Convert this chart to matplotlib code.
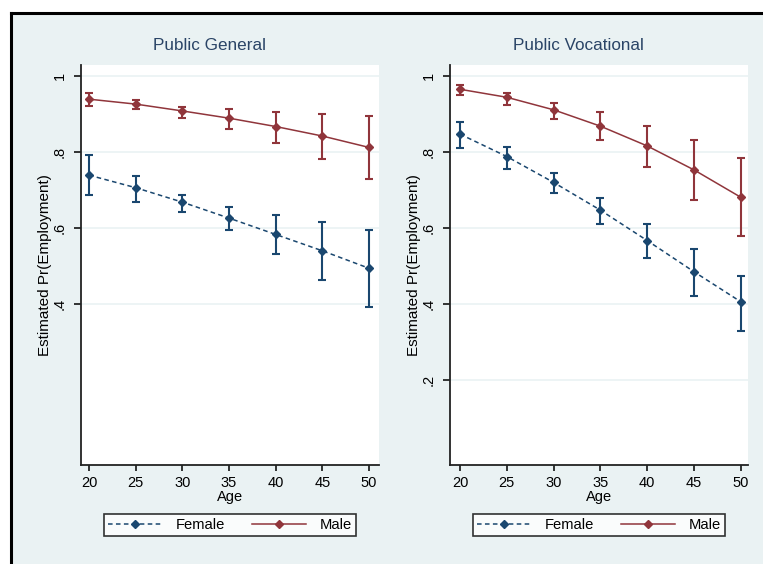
import matplotlib
matplotlib.use("Agg")
import matplotlib.pyplot as plt
from matplotlib.lines import Line2D
from matplotlib.patches import Rectangle
import numpy as np

plt.rcParams['font.family'] = ['Liberation Sans', 'DejaVu Sans']

ages = [20, 25, 30, 35, 40, 45, 50]

# Public General
gen_female = [0.739, 0.706, 0.668, 0.626, 0.583, 0.540, 0.494]
gen_female_lo = [0.687, 0.668, 0.641, 0.595, 0.532, 0.463, 0.391]
gen_female_hi = [0.793, 0.738, 0.687, 0.655, 0.633, 0.615, 0.595]
gen_male = [0.939, 0.926, 0.908, 0.889, 0.867, 0.842, 0.812]
gen_male_lo = [0.921, 0.912, 0.890, 0.860, 0.823, 0.781, 0.729]
gen_male_hi = [0.954, 0.937, 0.919, 0.912, 0.904, 0.899, 0.895]

# Public Vocational
voc_female = [0.847, 0.788, 0.720, 0.647, 0.567, 0.485, 0.406]
voc_female_lo = [0.810, 0.755, 0.693, 0.611, 0.520, 0.421, 0.329]
voc_female_hi = [0.878, 0.814, 0.746, 0.678, 0.611, 0.544, 0.474]
voc_male = [0.965, 0.944, 0.911, 0.868, 0.816, 0.753, 0.681]
voc_male_lo = [0.950, 0.924, 0.886, 0.832, 0.760, 0.674, 0.579]
voc_male_hi = [0.975, 0.954, 0.928, 0.904, 0.869, 0.832, 0.785]

titles = ["Public General", "Public Vocational"]
ytick_sets = [[0.4, 0.6, 0.8, 1.0], [0.2, 0.4, 0.6, 0.8, 1.0]]
ytick_labels = [['.4', '.6', '.8', '1'], ['.2', '.4', '.6', '.8', '1']]
xlims = [(19.14, 51.07), (18.93, 50.78)]

BG = '#EAF2F3'
NAVY = '#1a476f'
MAROON = '#90353b'
TITLE_C = '#2a4466'

W, H = 763, 564
fig = plt.figure(figsize=(W / 100, H / 100), dpi=100, facecolor='white')

# outer background with top/left frame
bg = fig.add_axes([0, 0, 1, 1], zorder=-10)
bg.set_xlim(0, W); bg.set_ylim(H, 0)
bg.axis('off')
bg.add_patch(Rectangle((11, 13), W - 11, H - 13, facecolor=BG, edgecolor='none'))
bg.plot([11, 11], [13, H], color='black', lw=2.2, solid_capstyle='projecting')
bg.plot([11, W], [13, 13], color='black', lw=2.2, solid_capstyle='projecting')

panels = [
    (gen_female, gen_female_lo, gen_female_hi, gen_male, gen_male_lo, gen_male_hi),
    (voc_female, voc_female_lo, voc_female_hi, voc_male, voc_male_lo, voc_male_hi),
]
lefts = [81, 450]
title_x = [-0.068, -0.068]
ylabel_x = [-0.0985, -0.0985]

for i, (f, flo, fhi, m, mlo, mhi) in enumerate(panels):
    ax = fig.add_axes([lefts[i] / W, 1 - 465 / H, 298 / W, 400 / H])
    ax.set_facecolor('white')
    f = np.array(f); m = np.array(m)
    ferr = [f - np.array(flo), np.array(fhi) - f]
    merr = [m - np.array(mlo), np.array(mhi) - m]
    ax.errorbar(ages, f, yerr=ferr, color=NAVY, ls=(0, (3, 2.2)), lw=1.1, marker='D',
                ms=4, capsize=3, elinewidth=1.5, capthick=1.5, label='Female', zorder=3)
    ax.errorbar(ages, m, yerr=merr, color=MAROON, ls='-', lw=1.1, marker='D',
                ms=4, capsize=3, elinewidth=1.5, capthick=1.5, label='Male', zorder=3)
    ax.set_xlim(*xlims[i])
    ax.set_ylim(-0.0237, 1.0289)
    ax.set_xticks(ages)
    ax.set_yticks(ytick_sets[i])
    ax.set_yticklabels(ytick_labels[i], rotation=90, va='center')
    ax.grid(axis='y', color=BG, lw=1.2)
    ax.set_axisbelow(True)
    for s in ['top', 'right']:
        ax.spines[s].set_visible(False)
    for s in ['left', 'bottom']:
        ax.spines[s].set_linewidth(1.3)
        ax.spines[s].set_color('#222222')
    ax.tick_params(axis='y', length=5, width=1.1, pad=5.5, labelsize=10.5)
    ax.tick_params(axis='x', length=4, width=1.1, pad=4, labelsize=10.5)
    ax.text(0.5 + title_x[i], 1 + 12 / 400, titles[i], transform=ax.transAxes,
            ha='center', va='bottom', fontsize=12.3, color=TITLE_C)
    ax.set_xlabel('Age', fontsize=10.5, labelpad=0)
    ax.set_ylabel('Estimated Pr(Employment)', fontsize=11)
    ax.yaxis.set_label_coords(ylabel_x[i], 0.5)
    handles = [
        Line2D([], [], color=NAVY, ls=(0, (3, 2.2)), lw=1.1, marker='D', ms=4),
        Line2D([], [], color=MAROON, ls='-', lw=1.1, marker='D', ms=4),
    ]
    leg = ax.legend(handles, ['Female', 'Male'], loc='center', bbox_to_anchor=(0.5, -0.15),
                    ncol=2, fontsize=10.6, frameon=True, fancybox=False, edgecolor='black',
                    handlelength=3.7, handletextpad=0.9, columnspacing=1.8, borderpad=0.3)
    leg.get_frame().set_linewidth(1.2)
    leg.get_frame().set_facecolor('white')

fig.savefig('out.png', dpi=100, facecolor='white')
